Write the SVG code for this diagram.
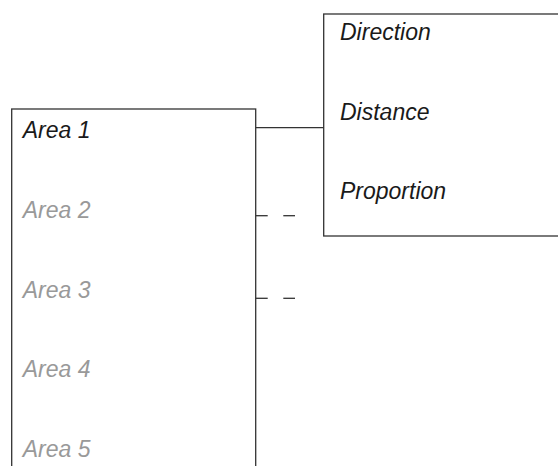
<svg xmlns="http://www.w3.org/2000/svg" width="558" height="466" viewBox="0 0 558 466">
<style>
.box{fill:#fff;stroke:#333;stroke-width:1.3}
.t{font-family:"Liberation Sans",Arial,Helvetica,sans-serif;font-style:italic;font-size:23px}
.on{fill:#1a1a1a}
.off{fill:#999}
.c{stroke:#333;stroke-width:1.3;fill:none}
</style>
<rect width="558" height="466" fill="#fff"/>
<g id="right-box">
<rect class="box" x="323.7" y="14" width="260" height="222"/>
<text class="t on" x="340" y="40">Direction</text>
<text class="t on" x="340" y="119.5">Distance</text>
<text class="t on" x="340" y="199">Proportion</text>
</g>
<g id="left-box">
<rect class="box" x="11.7" y="109" width="244" height="380"/>
<text class="t on" x="22.7" y="137.7">Area 1</text>
<text class="t off" x="22.7" y="218.3">Area 2</text>
<text class="t off" x="22.7" y="297.5">Area 3</text>
<text class="t off" x="22.7" y="377.3">Area 4</text>
<text class="t off" x="22.7" y="456.7">Area 5</text>
</g>
<g id="connectors">
<line class="c" x1="255.7" y1="127.7" x2="324" y2="127.7"/>
<line class="c" x1="255.7" y1="215.7" x2="267.7" y2="215.7"/>
<line class="c" x1="283.3" y1="215.7" x2="295" y2="215.7"/>
<line class="c" x1="255.7" y1="298.3" x2="267.7" y2="298.3"/>
<line class="c" x1="283.3" y1="298.3" x2="295" y2="298.3"/>
</g>
</svg>
